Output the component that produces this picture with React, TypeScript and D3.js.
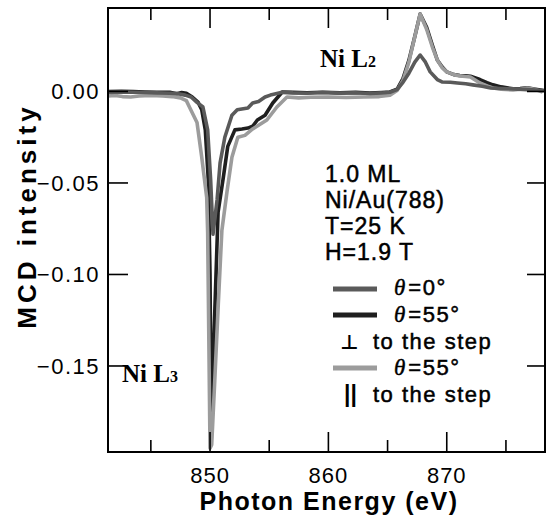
import React from "react";
import * as d3 from "d3";

// theta = 0 deg
const energy0 = [841.4, 842.5, 843.5, 844.5, 845.5, 846.6, 847.3, 847.9, 848.4, 848.9, 849.4, 849.8, 850.05, 850.25, 850.6, 850.85, 851.25, 851.85, 852.3, 853.2, 853.6, 854.1, 854.65, 855.1, 856.1, 857.0, 858.2, 859.5, 861.0, 862.3, 863.5, 864.5, 865.2, 865.8, 866.3, 866.8, 867.3, 867.75, 868.2, 868.6, 869.2, 869.6, 870.3, 870.9, 871.6, 872.2, 873.0, 873.7, 874.6, 875.6, 876.8, 877.6, 878.2];
const mcd0 = [-0.0005, -0.0003, -0.0004, -0.0006, -0.0008, -0.001, -0.0012, -0.002, -0.003, -0.006, -0.0085, -0.021, -0.048, -0.078, -0.059, -0.039, -0.025, -0.013, -0.01, -0.009, -0.0063, -0.0055, -0.003, -0.002, -0.0005, -0.0008, -0.001, -0.0006, -0.0009, -0.0007, -0.0011, -0.0008, -0.0004, 0.001, 0.005, 0.01, 0.016, 0.0199, 0.016, 0.0107, 0.0065, 0.0052, 0.005, 0.0046, 0.0042, 0.0036, 0.0028, 0.0019, 0.0016, 0.0014, 0.001, 0.0008, 0.0004];

// theta = 55 deg, perpendicular to the step
const energy1 = [841.4, 842.5, 843.5, 844.5, 845.5, 846.6, 847.2, 847.6, 848.0, 848.5, 849.0, 849.3, 849.6, 849.85, 850.0, 850.1, 850.3, 850.68, 851.1, 851.5, 852.1, 852.7, 853.2, 853.6, 854.0, 854.65, 855.3, 856.1, 857.0, 858.2, 859.5, 861.0, 862.3, 863.5, 864.5, 865.2, 865.8, 866.3, 866.8, 867.3, 867.75, 868.3, 868.8, 869.2, 869.6, 870.0, 870.6, 871.1, 871.6, 872.0, 872.8, 873.4, 873.9, 874.6, 875.6, 876.2, 876.8, 877.5, 878.2];
const mcd1 = [0.0, 0.0001, -0.0001, -0.0003, -0.0004, -0.0005, -0.0012, -0.0006, -0.001, -0.003, -0.006, -0.01, -0.021, -0.048, -0.1, -0.19, -0.14, -0.066, -0.048, -0.03, -0.021, -0.0205, -0.02, -0.019, -0.0156, -0.013, -0.0063, -0.0003, -0.0005, -0.0007, -0.0004, -0.0008, -0.0005, -0.0009, -0.0006, -0.0003, 0.0012, 0.007, 0.017, 0.03, 0.0423, 0.035, 0.025, 0.0172, 0.0135, 0.0107, 0.0092, 0.0087, 0.0085, 0.0083, 0.0065, 0.0048, 0.0036, 0.0025, 0.0014, 0.0016, 0.002, 0.0012, 0.0005];

// theta = 55 deg, parallel to the step
const energy2 = [841.4, 842.0, 842.6, 843.3, 844.0, 845.0, 846.0, 846.8, 847.5, 848.0, 848.3, 848.9, 849.3, 849.72, 849.8, 850.0, 850.14, 850.4, 850.7, 851.0, 851.45, 851.85, 852.35, 852.95, 853.6, 854.2, 854.8, 855.65, 856.5, 857.5, 858.5, 860.0, 861.5, 863.0, 864.3, 865.2, 865.8, 866.3, 866.8, 867.3, 867.75, 868.3, 868.8, 869.2, 869.6, 870.0, 870.6, 871.1, 871.6, 872.0, 872.8, 873.4, 873.9, 874.6, 875.6, 876.2, 876.8, 877.5, 878.1];
const mcd2 = [-0.0025, -0.0022, -0.0028, -0.003, -0.0025, -0.0022, -0.0025, -0.0028, -0.0035, -0.005, -0.009, -0.017, -0.036, -0.058, -0.077, -0.195, -0.193, -0.158, -0.116, -0.076, -0.054, -0.036, -0.025, -0.024, -0.0205, -0.018, -0.0156, -0.0085, -0.003, -0.0035, -0.0032, -0.003, -0.0033, -0.003, -0.0028, -0.002, 0.0005, 0.006, 0.016, 0.03, 0.0423, 0.034, 0.024, 0.0172, 0.013, 0.0107, 0.0092, 0.0085, 0.0082, 0.0079, 0.0046, 0.003, 0.0019, 0.0012, 0.0008, 0.0012, 0.0019, 0.001, -0.0003];

const xMajor = [850, 860, 870];
const xMinor = [845, 855, 865, 875];
const yTicks = [0, -0.05, -0.1, -0.15];
const sampleInfo = ["1.0 ML", "Ni/Au(788)", "T=25 K", "H=1.9 T"];

const sans = "'Liberation Sans', Arial, sans-serif";
const serif = "'Liberation Serif', 'Times New Roman', serif";

export default function App() {
  const left = 108, right = 545, top = 8, bottom = 452;
  const x = d3.scaleLinear().domain([841.38, 878.3]).range([left, right]);
  const y = d3.scaleLinear().domain([-0.197, 0.0456]).range([bottom, top]);

  const line = d3.line<[number, number]>()
    .x((d) => x(d[0]))
    .y((d) => y(d[1]));

  const zip = (e: number[], v: number[]) => e.map((d, i) => [d, v[i]] as [number, number]);

  // drawing order: black under light gray, mid gray on top
  const series = [
    { key: "perp", color: "#1f1f1f", pts: zip(energy1, mcd1) },
    { key: "par", color: "#9c9c9c", pts: zip(energy2, mcd2) },
    { key: "zero", color: "#5a5a5a", pts: zip(energy0, mcd0) },
  ];

  const fmt = (v: number) => (v < 0 ? "\u2212" : "") + Math.abs(v).toFixed(2);

  return (
    <svg width={546} height={517} style={{ position: "absolute", left: 0, top: 0, background: "#fff" }}>
      <defs>
        <clipPath id="plot">
          <rect x={left} y={top} width={right - left} height={bottom - top} />
        </clipPath>
      </defs>
      <rect width={546} height={517} fill="#fff" />

      <g clipPath="url(#plot)" fill="none" strokeLinejoin="round">
        {series.map((s) => (
          <path key={s.key} d={line(s.pts) || ""} stroke={s.color} strokeWidth={3.6} />
        ))}
      </g>

      {/* frame */}
      <rect x={left} y={top} width={right - left} height={bottom - top} fill="none" stroke="#000" strokeWidth={2} />

      {/* ticks, all inward */}
      <g stroke="#000" strokeWidth={1.6}>
        {xMajor.map((t) => (
          <g key={"M" + t}>
            <line x1={x(t)} x2={x(t)} y1={bottom} y2={bottom - 20} />
            <line x1={x(t)} x2={x(t)} y1={top} y2={top + 20} />
          </g>
        ))}
        {xMinor.map((t) => (
          <g key={"m" + t}>
            <line x1={x(t)} x2={x(t)} y1={bottom} y2={bottom - 12} />
            <line x1={x(t)} x2={x(t)} y1={top} y2={top + 12} />
          </g>
        ))}
        {yTicks.map((t) => (
          <g key={"y" + t}>
            <line x1={left} x2={left + 20} y1={y(t)} y2={y(t)} />
            <line x1={right} x2={right - 18} y1={y(t)} y2={y(t)} />
          </g>
        ))}
      </g>

      <g fontFamily={sans} fill="#000">
        {xMajor.map((t) => (
          <text key={t} x={x(t)} y={483} fontSize={22} textAnchor="middle" letterSpacing={1}>
            {t}
          </text>
        ))}
        {yTicks.map((t) => (
          <text key={t} x={100} y={y(t) + 8} fontSize={22} textAnchor="end" letterSpacing={1.5}>
            {fmt(t)}
          </text>
        ))}
        <text x={329} y={510} fontSize={25} fontWeight="bold" textAnchor="middle" letterSpacing={1.5}>
          Photon Energy (eV)
        </text>
        <text transform="translate(36,216) rotate(-90)" fontSize={26} fontWeight="bold" textAnchor="middle" letterSpacing={4}>
          MCD intensity
        </text>
      </g>

      {/* edge labels */}
      <g fontFamily={serif} fill="#000" fontWeight="bold">
        <text x={320} y={67} fontSize={25}>
          Ni L<tspan fontSize={16}>2</tspan>
        </text>
        <text x={122} y={382} fontSize={25}>
          Ni L<tspan fontSize={16}>3</tspan>
        </text>
      </g>

      {/* sample info */}
      <g fontFamily={sans} fontSize={23} fill="#000" stroke="#000" strokeWidth={0.5} letterSpacing={1}>
        {sampleInfo.map((s, i) => (
          <text key={s} x={325} y={182 + i * 26}>
            {s}
          </text>
        ))}
      </g>

      {/* legend */}
      <g strokeWidth={5}>
        <line x1={333} x2={377} y1={289} y2={289} stroke="#5a5a5a" />
        <line x1={333} x2={377} y1={315} y2={315} stroke="#1f1f1f" />
        <line x1={333} x2={377} y1={368} y2={368} stroke="#9c9c9c" />
      </g>
      <g fill="#000" fontSize={22}>
        {[295, 322, 375].map((yy, i) => (
          <text key={yy} x={394} y={yy} fontFamily={sans} stroke="#000" strokeWidth={0.5}>
            <tspan fontFamily={serif} fontStyle="italic" fontSize={23} strokeWidth={0.4}>θ</tspan>
            <tspan dx={3} letterSpacing={1.5}>{i === 0 ? "=0°" : "=55°"}</tspan>
          </text>
        ))}
        <text x={340} y={349} fontFamily="'DejaVu Sans', sans-serif" fontSize={20} fontWeight="bold">⊥</text>
        <text x={344} y={402} fontFamily={sans} fontSize={23} fontWeight="bold">||</text>
        <text x={373} y={349} fontFamily={sans} stroke="#000" strokeWidth={0.5} letterSpacing={1.5}>to the step</text>
        <text x={373} y={402} fontFamily={sans} stroke="#000" strokeWidth={0.5} letterSpacing={1.5}>to the step</text>
      </g>
    </svg>
  );
}
